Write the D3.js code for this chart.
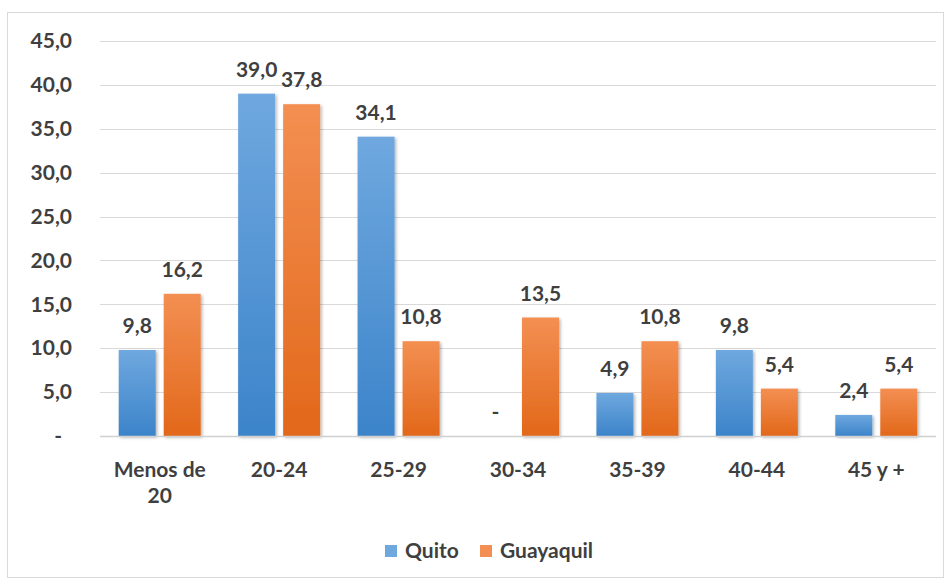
<!DOCTYPE html>
<html>
<head>
<meta charset="utf-8">
<script src="https://cdn.jsdelivr.net/npm/d3@7/dist/d3.min.js"></script>
<style>
  html, body { margin: 0; padding: 0; background: #fff; }
  svg { display: block; }
  text { font-family: Lato, "Open Sans", sans-serif; font-weight: 700; fill: #3f3f3f; }
</style>
</head>
<body>
<svg id="chart" width="951" height="581"></svg>
<script>
// Age groups and the share (%) for each city
const categories = [["Menos de", "20"], ["20-24"], ["25-29"], ["30-34"], ["35-39"], ["40-44"], ["45 y +"]];
const seriesNames = ["Quito", "Guayaquil"];
const quito = [9.8, 39.0, 34.1, 0, 4.9, 9.8, 2.4];
const guayaquil = [16.2, 37.8, 10.8, 13.5, 10.8, 5.4, 5.4];
const yTicks = [0, 5, 10, 15, 20, 25, 30, 35, 40, 45];
const colors = { Quito: ["#6fa8df", "#3c84ca"], Guayaquil: ["#f38f52", "#e2681a"] };

const fmt = v => v === 0 ? "-" : v.toFixed(1).replace(".", ",");
const FS = 21;

const svg = d3.select("#chart");
const defs = svg.append("defs");

seriesNames.forEach(s => {
  const g = defs.append("linearGradient").attr("id", "grad-" + s)
    .attr("x1", 0).attr("y1", 0).attr("x2", 0).attr("y2", 1);
  g.append("stop").attr("offset", "0%").attr("stop-color", colors[s][0]);
  g.append("stop").attr("offset", "100%").attr("stop-color", colors[s][1]);
});
const shadow = defs.append("filter").attr("id", "shadow")
  .attr("x", "-20%").attr("y", "-5%").attr("width", "150%").attr("height", "115%");
shadow.append("feDropShadow").attr("dx", 1.5).attr("dy", 1.5)
  .attr("stdDeviation", 1.5).attr("flood-color", "#000").attr("flood-opacity", 0.3);

// Chart frame
svg.append("rect").attr("x", 7.5).attr("y", 12.5).attr("width", 936).attr("height", 565)
  .attr("fill", "#fff").attr("stroke", "#d9d9d9").attr("stroke-width", 1);

const plot = { left: 100, right: 936, top: 41, bottom: 436 };

const x0 = d3.scaleBand().domain(d3.range(categories.length))
  .range([plot.left, plot.right]).padding(0);
const x1 = d3.scaleBand().domain(seriesNames)
  .range([0, x0.bandwidth()]).paddingInner(0.178).paddingOuter(0.416);
const y = d3.scaleLinear().domain([0, 45]).range([plot.bottom, plot.top]);

// Gridlines
svg.append("g").selectAll("line").data(yTicks.filter(t => t > 0)).join("line")
  .attr("x1", plot.left).attr("x2", plot.right)
  .attr("y1", d => Math.round(y(d)) + 0.5).attr("y2", d => Math.round(y(d)) + 0.5)
  .attr("stroke", "#d9d9d9").attr("stroke-width", 1.2);

// Y axis labels
const yAxis = d3.axisLeft(y).tickValues(yTicks).tickSize(0).tickPadding(0).tickFormat(fmt);
const yg = svg.append("g").attr("transform", "translate(72,0)").call(yAxis);
yg.select(".domain").remove();
yg.selectAll("text").attr("font-size", FS).attr("fill", "#3f3f3f")
  .style("font-family", "Lato, sans-serif").style("font-weight", 700)
  .attr("dx", d => d === 0 ? -10 : 0);

// Bars
const data = categories.map((c, i) => ({ i, values: [
  { s: "Quito", v: quito[i] }, { s: "Guayaquil", v: guayaquil[i] }] }));

const groups = svg.append("g").selectAll("g").data(data).join("g")
  .attr("transform", d => `translate(${x0(d.i)},0)`);

groups.selectAll("rect").data(d => d.values).join("rect")
  .attr("x", d => x1(d.s)).attr("width", x1.bandwidth())
  .attr("y", d => y(d.v)).attr("height", d => y(0) - y(d.v))
  .attr("fill", d => `url(#grad-${d.s})`)
  .attr("filter", "url(#shadow)");

// Baseline
svg.append("line").attr("x1", plot.left).attr("x2", plot.right)
  .attr("y1", plot.bottom + 0.5).attr("y2", plot.bottom + 0.5)
  .attr("stroke", "#d0d0d0").attr("stroke-width", 1.5);

// Value labels
groups.selectAll("text.val").data(d => d.values).join("text").attr("class", "val")
  .attr("x", d => x1(d.s) + x1.bandwidth() / 2)
  .attr("y", d => y(d.v) - 17)
  .attr("text-anchor", "middle").attr("font-size", FS)
  .text(d => fmt(d.v));

// Category labels
const xg = svg.append("g");
categories.forEach((lines, i) => {
  const t = xg.append("text").attr("text-anchor", "middle").attr("font-size", FS)
    .attr("x", x0(i) + x0.bandwidth() / 2).attr("y", 477);
  lines.forEach((ln, k) => t.append("tspan")
    .attr("x", x0(i) + x0.bandwidth() / 2).attr("dy", k === 0 ? 0 : 26).text(ln));
});

// Legend
const legend = svg.append("g");
const legendItems = [{ s: "Quito", x: 385 }, { s: "Guayaquil", x: 480 }];
legendItems.forEach(it => {
  legend.append("rect").attr("x", it.x).attr("y", 545).attr("width", 12).attr("height", 12)
    .attr("fill", colors[it.s][0]);
  legend.append("text").attr("x", it.x + 20).attr("y", 558).attr("font-size", FS).text(it.s);
});
</script>
</body>
</html>
